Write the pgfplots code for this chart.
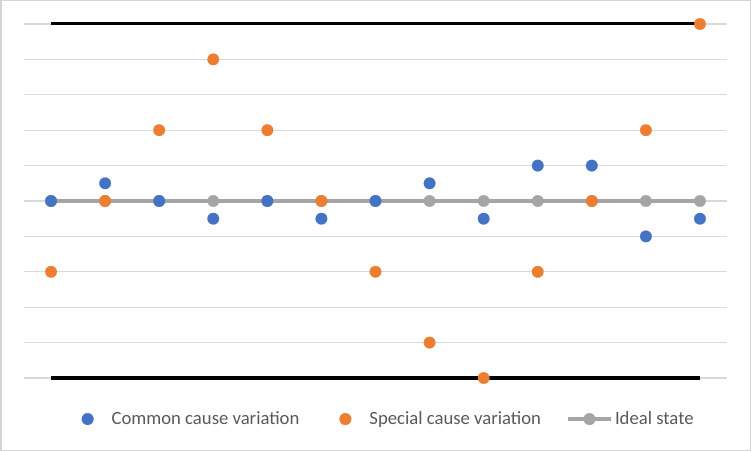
\documentclass[border=0pt]{standalone}
\usepackage{fontspec}
\setmainfont{Carlito}
\usepackage{pgfplots}
\pgfplotsset{compat=1.18}
\definecolor{cblue}{HTML}{4472C4}
\definecolor{corange}{HTML}{ED7D31}
\definecolor{cgray}{HTML}{A5A5A5}
\definecolor{cgrid}{HTML}{D9D9D9}
\definecolor{cborder}{HTML}{D4D4D4}
\definecolor{ctext}{HTML}{595959}
\begin{document}
\begin{tikzpicture}
\draw[cborder, line width=1.5bp] (0.75bp,0.75bp) rectangle (750.25bp,450.25bp);
\begin{axis}[
    at={(24bp,73bp)}, anchor=south west,
    scale only axis, width=703bp, height=354bp,
    xmin=0.5, xmax=13.5, ymin=0, ymax=10,
    xtick=\empty, ytick={0,1,...,10}, yticklabels={},
    major tick length=0pt,
    ymajorgrids=true,
    major grid style={cgrid, line width=1.3bp},
    axis line style={draw=none},
    clip=false,
    legend columns=3,
    legend style={
        at={(0.508,-0.116)}, anchor=center,
        draw=none, fill=none,
        font=\fontsize{18.7bp}{22bp}\selectfont,
        text=ctext,
        /tikz/every even column/.append style={column sep=23bp},
    },
]
% control limits
\addplot[black, line width=3bp, forget plot] coordinates {(1,10) (13,10)};
\addplot[black, line width=3bp, forget plot] coordinates {(1,0) (13,0)};
% ideal state
\addplot[cgray, line width=4bp, mark=*, mark size=5.8bp,
    mark options={line width=0.2bp}, forget plot]
    coordinates {(1,5)(2,5)(3,5)(4,5)(5,5)(6,5)(7,5)(8,5)(9,5)(10,5)(11,5)(12,5)(13,5)};
% common cause variation
\addplot[only marks, mark=*, mark size=5.8bp, mark options={line width=0.2bp}, color=cblue,
    legend image code/.code={\path[draw=none] (-21bp,0bp) -- (22bp,0bp); \fill[cblue] (0bp,0bp) circle (5.8bp);}]
    coordinates {(1,5)(2,5.5)(3,5)(4,4.5)(5,5)(6,4.5)(7,5)(8,5.5)(9,4.5)(10,6)(11,6)(12,4)(13,4.5)};
\addlegendentry{Common cause variation}
% special cause variation
\addplot[only marks, mark=*, mark size=5.8bp, mark options={line width=0.2bp}, color=corange,
    legend image code/.code={\path[draw=none] (-21bp,0bp) -- (22bp,0bp); \fill[corange] (0bp,0bp) circle (5.8bp);}]
    coordinates {(1,3)(2,5)(3,7)(4,9)(5,7)(6,5)(7,3)(8,1)(9,0)(10,3)(11,5)(12,7)(13,10)};
\addlegendentry{Special cause variation}
\addlegendimage{legend image code/.code={\draw[cgray, line width=4bp] (0bp,0bp) -- (43bp,0bp); \fill[cgray] (21.5bp,0bp) circle (5.8bp);}}
\addlegendentry{Ideal state}
\end{axis}
\end{tikzpicture}
\end{document}
